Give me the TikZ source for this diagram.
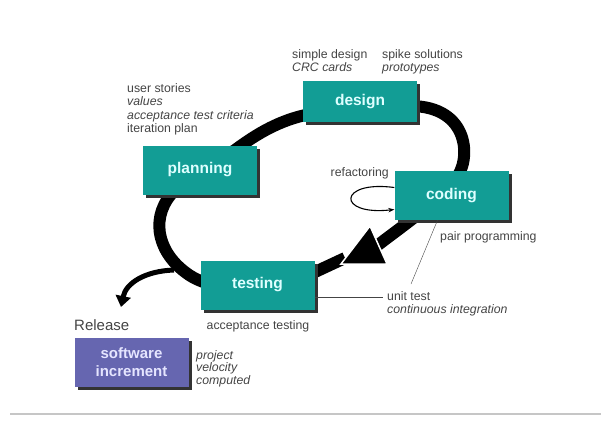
\documentclass[tikz,border=0pt]{standalone}
\usepackage{fontspec}
\setmainfont{Liberation Sans}
\usepackage{tikz}
\usetikzlibrary{arrows.meta,positioning,shadows}
\definecolor{stageteal}{RGB}{18,157,149}
\definecolor{stagetext}{RGB}{222,255,255}
\definecolor{relpurple}{RGB}{102,102,176}
\definecolor{notegray}{RGB}{68,68,68}

\begin{document}
\begin{tikzpicture}[
  x=1pt, y=-1pt,
  stage/.style={fill=stageteal, draw=none, minimum width=114pt, minimum height=49pt,
    text=stagetext, font=\fontsize{15.5}{17}\selectfont\bfseries,
    drop shadow={shadow xshift=3pt, shadow yshift=-3pt, fill=black!80, opacity=1}},
  note/.style={text=notegray, font=\fontsize{12.3}{13.5}\selectfont, align=left, inner sep=0pt},
  band/.style={line width=12pt, black},
]
\useasboundingbox (0,0) rectangle (601,420);
% Loop band (behind the boxes)
\draw[band] (345,258) -- (315,272) -- (290,285);
\draw[band] (290,287) .. controls (240,292) and (205,288) .. (185,272)
  .. controls (156,250) and (150,215) .. (175,190) -- (235,150)
  .. controls (258,133) and (280,120) .. (310,114) -- (410,106)
  .. controls (470,106) and (472,160) .. (455,180)
  .. controls (440,200) and (400,228) .. (378,245);
\coordinate (tip) at (341,264);
\filldraw[fill=black, draw=white, line width=1.5pt, line join=miter] (tip) -- (370,226) -- (387,264) -- cycle;
% Release arrow
\coordinate (relstart) at (174,270);
\coordinate (relend) at (121,307);
\draw[line width=5pt, -{Triangle[length=11pt, width=15pt]}] (relstart) .. controls (145,271) and (126,283) .. (relend);
% Stages
\node[stage, minimum height=41pt] (design) at (360,101.5) {design};
\node[stage] (planning) at (200,170) {planning};
\node[stage] (coding) at (451.5,195.5) {coding};
\node[stage] (testing) at (257.5,285) {testing};
\node[stage, fill=relpurple, text=white!90!blue, align=center,
  font=\fontsize{15}{18}\selectfont\bfseries] (increment) at (131.5,362) {software\\increment};
% Refactoring loop
\draw[line width=1.1pt, -{Stealth[length=6pt]}] ([yshift=8pt]coding.west)
  .. controls (338,180) and (336,216) .. ([yshift=-14pt]coding.west);
% Unit test pointers
\coordinate (ut) at (411,284);
\draw[thin, notegray] ([xshift=-14pt]coding.south) -- (ut);
\draw[thin, notegray] ([yshift=-12pt]testing.east) -- (383,297);
% Notes
\node[note, anchor=north west] (plannotes) at (127,83) {user stories\\\textit{values}\\\textit{acceptance test criteria}\\iteration plan};
\node[note, anchor=north west] (designnotes) at (292,49) {simple design\\\textit{CRC cards}};
\node[note, anchor=north west] (spikenotes) at (382,49) {spike solutions\\\textit{prototypes}};
\node[note, anchor=east] (refact) at (389,173) {refactoring};
\node[note, anchor=west] (pair) at (440,237) {pair programming};
\node[note, anchor=north west] (unitnotes) at (387,291) {unit test\\\textit{continuous integration}};
\node[note, anchor=north] (acctest) at (258,320) {acceptance testing};
\node[note, anchor=west, font=\fontsize{15}{17}\selectfont] (release) at (74,325) {Release};
\node[note, anchor=north west, font=\fontsize{12.3}{12.5}\selectfont] (velocity) at (196,350) {\textit{project}\\\textit{velocity}\\\textit{computed}};
% Bottom rule
\draw[gray!45, line width=2pt] (10,414) -- (601,414);
\end{tikzpicture}
\end{document}
